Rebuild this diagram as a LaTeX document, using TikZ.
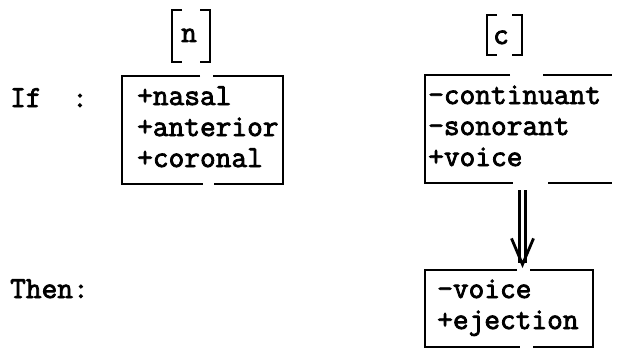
\documentclass[tikz,border=0pt]{standalone}
\usepackage{fontspec}
\setmonofont{Latin Modern Mono}[FakeBold=2.6]
\usetikzlibrary{arrows.meta}

\begin{document}
\begin{tikzpicture}[
    x=1pt, y=-1pt,
    txt/.style={font=\ttfamily\bfseries\fontsize{30.5}{31}\selectfont},
    feat/.style={txt, align=left, inner sep=0pt, anchor=base west},
    seg/.style={txt, inner sep=0pt, anchor=base},
    brk/.style={line width=2.8pt},
    rule/.style={double, double distance=3pt, line width=2.8pt,
      -{Straight Barb[length=26pt, width=22pt, line width=2.8pt]}},
  ]
  \useasboundingbox (0,0) rectangle (617,350);

  % segments
  \node[seg] (segN) at (189,42) {n};
  \node[seg] (segC) at (501,44) {c};
  \draw[brk] (182,10) -- (172,10) -- (172,62) -- (182,62);
  \draw[brk] (200,10) -- (210,10) -- (210,62) -- (200,62);
  \draw[brk] (497,15) -- (487,15) -- (487,55) -- (497,55);
  \draw[brk] (512,15) -- (522,15) -- (522,55) -- (512,55);

  % row labels
  \node[feat] (ifLbl) at (10,107) {If\hspace{1em}:};
  \node[feat] (thenLbl) at (10,298) {Then:};

  % feature matrices (base = last line)
  \node[feat] (matN) at (137,167) {+nasal\\+anterior\\+coronal};
  \draw[brk] (200,76) -- (122,76) -- (122,184) -- (203,184);
  \draw[brk] (213,76) -- (283,76) -- (283,184) -- (214,184);

  \node[feat] (matC) at (428,166) {-continuant\\-sonorant\\+voice};
  \draw[brk] (510,75) -- (425,75) -- (425,183) -- (513,183);
  \draw[brk] (543,75) -- (612,75);
  \draw[brk] (548,183) -- (612,183);

  \node[feat] (matOut) at (437,329) {-voice\\+ejection};
  \draw[brk] (517,270) -- (425,270) -- (425,347) -- (520,347);
  \draw[brk] (530,270) -- (593,270) -- (593,347) -- (533,347);

  % rule arrow
  \coordinate (ruleTop) at (522.5,190);
  \coordinate (ruleEnd) at (522.5,268);
  \draw[rule] (ruleTop) -- (ruleEnd);
\end{tikzpicture}
\end{document}
